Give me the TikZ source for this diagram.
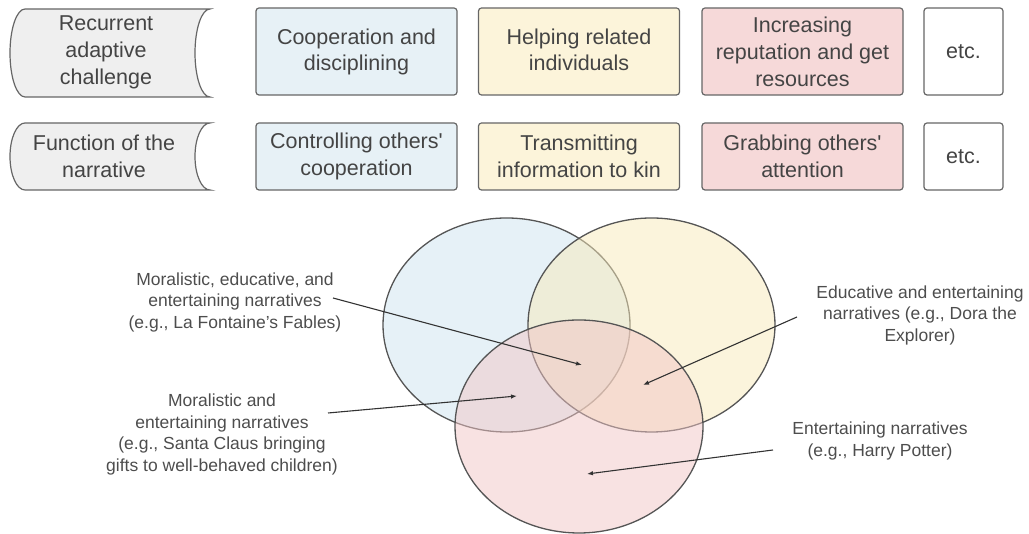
\documentclass[tikz,border=0pt]{standalone}
\usepackage{fontspec}
\setmainfont{Liberation Sans}
\usetikzlibrary{arrows.meta}
\definecolor{edge}{HTML}{666666}
\definecolor{txt}{HTML}{444444}
\definecolor{txtb}{HTML}{4D4D4D}
\definecolor{bxblue}{HTML}{E7F1F6}
\definecolor{bxyellow}{HTML}{FCF4DA}
\definecolor{bxpink}{HTML}{F6D9D9}
\definecolor{bxgrey}{HTML}{EFEFEF}
\definecolor{vblue}{HTML}{CDE3EF}
\definecolor{vyellow}{HTML}{F7E9B9}
\definecolor{vpink}{HTML}{F1C5C5}
\definecolor{vedge}{HTML}{555555}
\definecolor{arr}{HTML}{333333}
\begin{document}
\begin{tikzpicture}[x=1pt,y=1pt,
  box/.style={draw=edge,line width=1.2pt,rounded corners=3pt,inner sep=0pt,align=center,text=txt,font=\fontsize{21.5}{27}\selectfont},
  tall/.style={minimum height=87pt},
  short/.style={minimum height=67pt},
  wide/.style={minimum width=201pt},
  narrow/.style={minimum width=79pt},
  headshape/.style={draw=edge,line width=1.2pt,fill=bxgrey},
  headtext/.style={inner sep=0pt,align=center,text=txt,font=\fontsize{21.5}{27}\selectfont},
  venn/.style={draw=vedge,line width=1.3pt,fill opacity=0.5},
  vlabel/.style={inner sep=0pt,align=center,text=txtb,font=\fontsize{17.5}{21.5}\selectfont},
  conn/.style={draw=arr,line width=1.1pt,-{Latex[length=6pt,width=4.5pt]}}]
\useasboundingbox (0,0) rectangle (1029,534);

% left header shapes
\draw[headshape] (25,525) arc[start angle=90,end angle=270,x radius=15,y radius=44] -- (210,437)
  arc[start angle=270,end angle=90,x radius=15,y radius=44] -- cycle;
\node[headtext] (rac) at (106,482) {Recurrent\\adaptive\\challenge};
\draw[headshape] (25,411) arc[start angle=90,end angle=270,x radius=15,y radius=33.5] -- (210,344)
  arc[start angle=270,end angle=90,x radius=15,y radius=33.5] -- cycle;
\node[headtext] (fn) at (104,377.5) {Function of the\\narrative};

% row 1
\node[box,tall,wide,fill=bxblue] (c1) at (356.5,482.5) {\raisebox{3pt}{\shortstack{Cooperation and\\[3pt]disciplining}}};
\node[box,tall,wide,fill=bxyellow] (c2) at (579,482.5) {\raisebox{3pt}{\shortstack{Helping related\\[3pt]individuals}}};
\node[box,tall,wide,fill=bxpink] (c3) at (802.5,482.5) {Increasing\\reputation and get\\resources};
\node[box,tall,narrow,fill=white] (c4) at (963.5,482.5) {etc.};
% row 2
\node[box,short,wide,fill=bxblue] (f1) at (356.5,377.5) {Controlling others\textquotesingle\\cooperation};
\node[box,short,wide,fill=bxyellow] (f2) at (579,377.5) {Transmitting\\information to kin};
\node[box,short,wide,fill=bxpink] (f3) at (802.5,377.5) {Grabbing others\textquotesingle\\attention};
\node[box,short,narrow,fill=white] (f4) at (963.5,377.5) {etc.};

% Venn diagram
\draw[venn,fill=vblue] (506.5,209) ellipse[x radius=123.5,y radius=107];
\draw[venn,fill=vyellow] (651.5,209) ellipse[x radius=123.5,y radius=107];
\draw[venn,fill=vpink] (579,107.5) ellipse[x radius=124,y radius=106.5];

% labels
\node[vlabel] (l1) at (235,232) {Moralistic, educative, and\\entertaining narratives\\(e.g., La Fontaine’s Fables)};
\node[vlabel] (l2) at (222,99.5) {Moralistic and\\entertaining narratives\\(e.g., Santa Claus bringing\\gifts to well-behaved children)};
\node[vlabel] (l3) at (920,219) {Educative and entertaining\\narratives (e.g., Dora the\\Explorer)};
\node[vlabel] (l4) at (880,93) {Entertaining narratives\\(e.g., Harry Potter)};

% arrow endpoints
\coordinate (s1) at (333,236); \coordinate (e1) at (582,169);
\coordinate (s2) at (328,121); \coordinate (e2) at (517,138);
\coordinate (s3) at (797,217); \coordinate (e3) at (643,149);
\coordinate (s4) at (773,84);  \coordinate (e4) at (587,60);
\draw[conn] (s1) -- (e1);
\draw[conn] (s2) -- (e2);
\draw[conn] (s3) -- (e3);
\draw[conn] (s4) -- (e4);
\end{tikzpicture}
\end{document}
